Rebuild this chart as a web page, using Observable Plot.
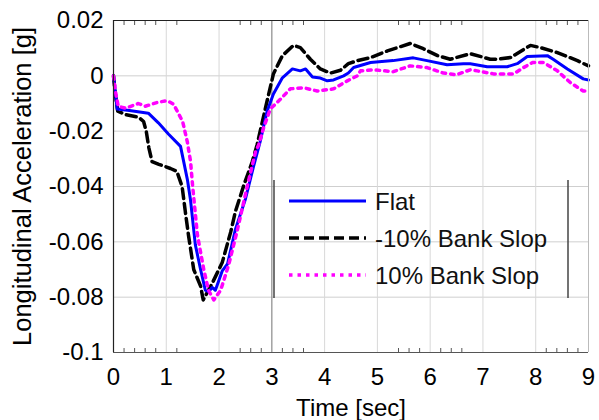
<!DOCTYPE html>
<html>
<head>
<meta charset="utf-8">
<script src="https://cdn.jsdelivr.net/npm/d3@7"></script>
<script src="https://cdn.jsdelivr.net/npm/@observablehq/plot@0.6"></script>
<style>
  body { margin: 0; background: white; }
  #wrap { position: relative; width: 599px; height: 420px; font-family: "Liberation Sans", Arial, sans-serif; }
  #legend { position: absolute; left: 0; top: 0; }
</style>
</head>
<body>
<div id="wrap"></div>
<script>
// ---- data ----
const seriesNames = ["Flat", "-10% Bank Slop", "10% Bank Slop"];

const flatT = [0, 0.07, 0.3, 0.66, 0.85, 1.04, 1.27, 1.33, 1.40, 1.46, 1.55, 1.65, 1.74, 1.80, 1.87, 1.93, 2.06, 2.16, 2.31, 2.50, 2.65, 2.78, 2.91, 3.03, 3.2, 3.39, 3.54, 3.64, 3.77, 3.92, 4.05, 4.17, 4.36, 4.45, 4.55, 4.87, 5.3, 5.68, 5.94, 6.32, 6.63, 6.76, 7.08, 7.46, 7.65, 7.84, 8.22, 8.33, 8.6, 8.9, 9.0];
const flatV = [0, -0.012, -0.0125, -0.0135, -0.017, -0.021, -0.0255, -0.031, -0.0375, -0.045, -0.061, -0.07, -0.0775, -0.078, -0.0765, -0.0775, -0.0705, -0.068, -0.0555, -0.0445, -0.033, -0.0237, -0.0128, -0.0066, -0.0007, 0.0025, 0.0018, 0.0025, -0.0004, -0.0008, -0.0018, -0.0015, 0, 0.001, 0.003, 0.0048, 0.0055, 0.0065, 0.0055, 0.004, 0.0044, 0.0044, 0.0033, 0.0033, 0.0044, 0.007, 0.0073, 0.006, 0.0025, -0.0011, -0.0015];

const negT = [0, 0.03, 0.08, 0.23, 0.48, 0.57, 0.62, 0.67, 0.73, 0.86, 1.08, 1.2, 1.3, 1.36, 1.42, 1.52, 1.65, 1.70, 1.77, 1.87, 2.06, 2.22, 2.31, 2.47, 2.63, 2.72, 2.91, 3.03, 3.2, 3.41, 3.54, 3.73, 3.92, 4.11, 4.3, 4.45, 4.62, 4.87, 5.19, 5.62, 5.87, 6.14, 6.38, 6.76, 7.14, 7.27, 7.52, 7.9, 8.09, 8.41, 8.79, 9.0];
const negV = [0, -0.006, -0.0128, -0.014, -0.015, -0.0165, -0.02, -0.026, -0.031, -0.032, -0.0335, -0.0345, -0.04, -0.049, -0.0575, -0.07, -0.076, -0.081, -0.0785, -0.075, -0.0675, -0.0565, -0.049, -0.0395, -0.031, -0.025, -0.0091, 0.0007, 0.0073, 0.011, 0.0102, 0.006, 0.0025, 0.001, 0.002, 0.0044, 0.0055, 0.0066, 0.009, 0.0117, 0.0098, 0.0073, 0.006, 0.008, 0.006, 0.006, 0.0066, 0.011, 0.0102, 0.0084, 0.0055, 0.0036];

const posT = [0, 0.04, 0.09, 0.23, 0.47, 0.6, 0.85, 1.02, 1.14, 1.31, 1.4, 1.46, 1.5, 1.59, 1.71, 1.8, 1.9, 2.03, 2.18, 2.35, 2.54, 2.69, 2.75, 2.84, 2.97, 3.16, 3.35, 3.6, 3.86, 4.17, 4.43, 4.62, 4.68, 4.92, 5.3, 5.62, 5.94, 6.25, 6.5, 6.76, 6.89, 7.2, 7.58, 7.77, 7.94, 8.15, 8.41, 8.66, 8.9, 9.0];
const posV = [0, -0.006, -0.011, -0.0117, -0.010, -0.011, -0.0095, -0.009, -0.0103, -0.0165, -0.024, -0.031, -0.04, -0.0575, -0.07, -0.0775, -0.081, -0.0775, -0.0685, -0.0555, -0.0395, -0.0275, -0.025, -0.019, -0.012, -0.0085, -0.0047, -0.0043, -0.0055, -0.0047, -0.0018, 0, 0.0018, 0.0022, 0.0015, 0.0036, 0.003, 0.001, 0.0004, 0.0022, 0.0018, 0.0007, 0.0007, 0.003, 0.0048, 0.0048, 0.0018, -0.0025, -0.0055, -0.0055];

const xTicks = [0, 1, 2, 3, 4, 5, 6, 7, 8, 9];
const yTicks = [0.02, 0, -0.02, -0.04, -0.06, -0.08, -0.1];
const yTickLabels = ["0.02", "0", "-0.02", "-0.04", "-0.06", "-0.08", "-0.1"];
const minorTicks = [0.2, 0.4, 0.6, 0.8, 1.2, 2.4, 2.6, 2.8, 3.2, 3.4, 3.6, 5.4, 5.6, 5.8, 6.2, 6.4, 6.6, 8.2, 8.4, 8.6, 8.8];

// ---- build tables ----
const toRows = (T, V) => T.map((t, i) => ({t, v: V[i]}));
const flat = toRows(flatT, flatV);
const neg = toRows(negT, negV);
const pos = toRows(posT, posV);

const yLabel = d => yTickLabels[yTicks.indexOf(d)] ?? String(d);

const font = "'Liberation Sans', Arial, sans-serif";

const chart = Plot.plot({
  width: 599,
  height: 420,
  marginLeft: 113,
  marginRight: 11,
  marginTop: 20,
  marginBottom: 68,
  style: {fontFamily: font, fontSize: "24px", background: "white", color: "black"},
  x: {domain: [0, 9]},
  y: {domain: [-0.1, 0.02]},
  marks: [
    Plot.gridY(yTicks, {stroke: "#cfcfcf", strokeOpacity: 1}),
    Plot.gridX(xTicks.filter(d => d > 0 && d < 9 && d !== 3), {stroke: "#d8d8d8", strokeOpacity: 1}),
    Plot.ruleX([3], {stroke: "#8a8a8a", strokeWidth: 1.2}),
    Plot.line(neg, {x: "t", y: "v", stroke: "black", strokeWidth: 3.5, strokeDasharray: "10,5"}),
    Plot.line(flat, {x: "t", y: "v", stroke: "#0000ff", strokeWidth: 3}),
    Plot.line(pos, {x: "t", y: "v", stroke: "#ff00ff", strokeWidth: 3.5, strokeDasharray: "3.5,5"}),
    // frame
    Plot.ruleY([0.02], {stroke: "#222", strokeWidth: 1.2}),
    Plot.ruleY([-0.1], {stroke: "#555", strokeWidth: 1.2}),
    Plot.ruleX([0], {stroke: "#222", strokeWidth: 1.2}),
    Plot.ruleX([9], {stroke: "#bbb", strokeWidth: 1}),
    // minor ticks
    Plot.axisX(minorTicks, {anchor: "bottom", tickSize: -4, text: null, label: null, stroke: "#555"}),
    Plot.axisX(minorTicks, {anchor: "top", tickSize: -4, text: null, label: null, stroke: "#555"}),
    // axes
    Plot.axisX(xTicks, {anchor: "bottom", tickSize: 0, tickPadding: 15, tickFormat: d => String(d),
      label: "Time [sec]", labelAnchor: "center", labelOffset: 63, labelArrow: "none", fontSize: 24}),
    Plot.axisY(yTicks, {anchor: "left", tickSize: 0, tickPadding: 10, tickFormat: yLabel,
      label: null, fontSize: 24}),
    Plot.axisY(yTicks, {anchor: "left", tickSize: 0, text: null,
      label: "Longitudinal Acceleration [g]", labelAnchor: "center", labelOffset: 101, labelArrow: "none", fontSize: 25.5})
  ]
});

const wrap = document.getElementById("wrap");
wrap.appendChild(chart);

// ---- legend overlay ----
const legendItems = [
  {name: seriesNames[0], stroke: "#0000ff", width: 3, dash: null},
  {name: seriesNames[1], stroke: "black", width: 3.5, dash: "10,5"},
  {name: seriesNames[2], stroke: "#ff00ff", width: 3.5, dash: "3.5,5"}
];
const lg = d3.select(wrap).append("svg")
  .attr("id", "legend")
  .attr("width", 599).attr("height", 420)
  .style("pointer-events", "none");
lg.append("line").attr("x1", 274).attr("x2", 274).attr("y1", 180).attr("y2", 298).attr("stroke", "#444").attr("stroke-width", 1.5);
lg.append("line").attr("x1", 568).attr("x2", 568).attr("y1", 180).attr("y2", 298).attr("stroke", "#444").attr("stroke-width", 1.5);
legendItems.forEach((d, i) => {
  const y = 201 + i * 37;
  lg.append("line").attr("x1", 289).attr("x2", 366).attr("y1", y).attr("y2", y)
    .attr("stroke", d.stroke).attr("stroke-width", d.width).attr("stroke-dasharray", d.dash);
  lg.append("text").attr("x", 375).attr("y", y + 9).attr("font-family", font).attr("font-size", 24)
    .attr("fill", "#111").text(d.name);
});
</script>
</body>
</html>
